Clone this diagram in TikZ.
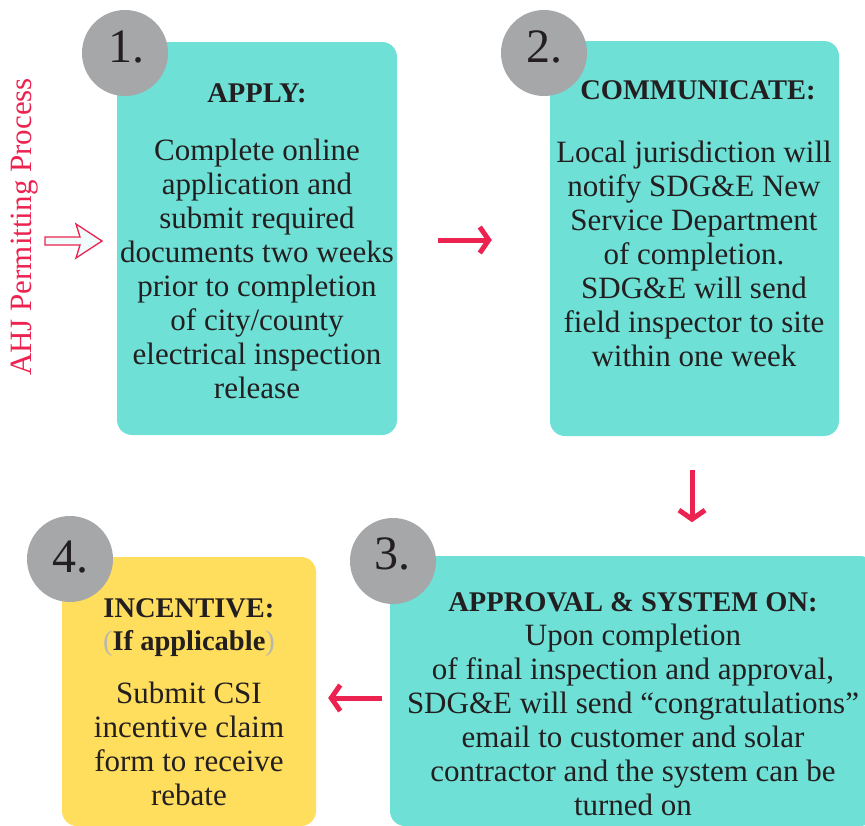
\documentclass[tikz,border=0pt]{standalone}
\usepackage{fontspec}
\setmainfont{Liberation Serif}[Ligatures=TeX]
\usetikzlibrary{arrows.meta,calc}
\definecolor{tealbox}{HTML}{6EE0D6}
\definecolor{yellowbox}{HTML}{FFDE5E}
\definecolor{graycirc}{HTML}{A6A7A9}
\definecolor{redarr}{HTML}{EC2350}
\definecolor{darktext}{HTML}{231F20}
\definecolor{paler}{HTML}{B8B8B0}
\definecolor{palefill}{HTML}{EFFCFB}
\tikzset{
  stepbox/.style={rounded corners=15pt, draw=none, inner sep=0pt},
  numcirc/.style={circle, fill=graycirc, draw=none, minimum size=86pt, inner sep=0pt},
  numtxt/.style={font=\rmfamily\fontsize{48}{48}\selectfont, text=darktext, inner sep=0pt},
  headtxt/.style={font=\rmfamily\fontsize{28.5}{34}\selectfont\bfseries, text=darktext, inner sep=0pt, align=center},
  bodytxt/.style={font=\rmfamily\fontsize{31}{34}\selectfont, text=darktext, inner sep=0pt, align=center},
  redarrow/.style={draw=redarr, line width=5pt, -{Straight Barb[length=9pt,width=26pt]}},
}
\begin{document}
\begin{tikzpicture}[x=1pt,y=-1pt]
\useasboundingbox (0,0) rectangle (865,825);
\clip (0,0) rectangle (865,825);
% boxes
\node[stepbox, fill=tealbox, minimum width=280pt, minimum height=393pt] (b1) at (257,238.5) {};
\node[stepbox, fill=tealbox, minimum width=289pt, minimum height=395pt] (b2) at (694.5,238.5) {};
\node[stepbox, fill=tealbox, minimum width=485pt, minimum height=270pt] (b3) at (632.5,691) {};
\node[stepbox, fill=yellowbox, minimum width=254pt, minimum height=269pt] (b4) at (189,691.5) {};
% number circles
\node[numcirc] (c1) at (125,53) {};
\node[numcirc] (c2) at (544,53) {};
\node[numcirc] (c3) at (393,561) {};
\node[numcirc] (c4) at (70,559) {};
\node[numtxt] (n1) at (126.5,47) {1.};
\node[numtxt] (n2) at (544.5,47) {2.};
\node[numtxt] (n3) at (392,554) {3.};
\node[numtxt] (n4) at (70,557) {4.};
% texts box 1
\node[headtxt] (h1) at (257,93) {APPLY:};
\node[bodytxt] (t1) at (257,269) {Complete online\\application and\\submit required\\documents two weeks\\prior to completion\\of city/county\\electrical inspection\\release};
% texts box 2
\node[headtxt] (h2) at (698,90) {COMMUNICATE:};
\node[bodytxt] (t2) at (694,254) {Local jurisdiction will\\notify SDG\&E New\\Service Department\\of completion.\\SDG\&E will send\\field inspector to site\\within one week};
% texts box 3
\node[headtxt] (h3) at (633,602) {APPROVAL \& SYSTEM ON:};
\node[bodytxt] (t3) at (633,720) {Upon completion\\of final inspection and approval,\\SDG\&E will send “congratulations”\\email to customer and solar\\contractor and the system can be\\turned on};
% texts box 4
\node[headtxt] (h4) at (189,608) {INCENTIVE:};
\node[headtxt] (s4) at (189,643) {\textcolor{paler}{\mdseries(}If applicable\textcolor{paler}{\mdseries)}};
\node[bodytxt] (t4) at (189,744) {Submit CSI\\incentive claim\\form to receive\\rebate};
% side label
\node[font=\rmfamily\fontsize{31}{31}\selectfont, text=redarr, rotate=90, inner sep=0pt] (side) at (25,227) {AHJ Permitting Process};
% hollow arrow into box 1
\draw[draw=redarr, fill=palefill, line width=1.3pt, line join=miter]
  (45,237) -- (80,237) -- (76,224) -- (102,241) -- (76,258) -- (80,245) -- (45,245) -- cycle;
% connectors
\draw[redarrow] ($(b1.east)+(41,1.5)$) -- ($(b2.west)+(-58,1.5)$);
\draw[redarrow] ($(b2.south)+(-2.5,34)$) -- ($(b2.south)+(-2.5,86)$);
\draw[redarrow] ($(b3.west)+(-8,7)$) -- ($(b4.east)+(12,6.5)$);
\end{tikzpicture}
\end{document}
